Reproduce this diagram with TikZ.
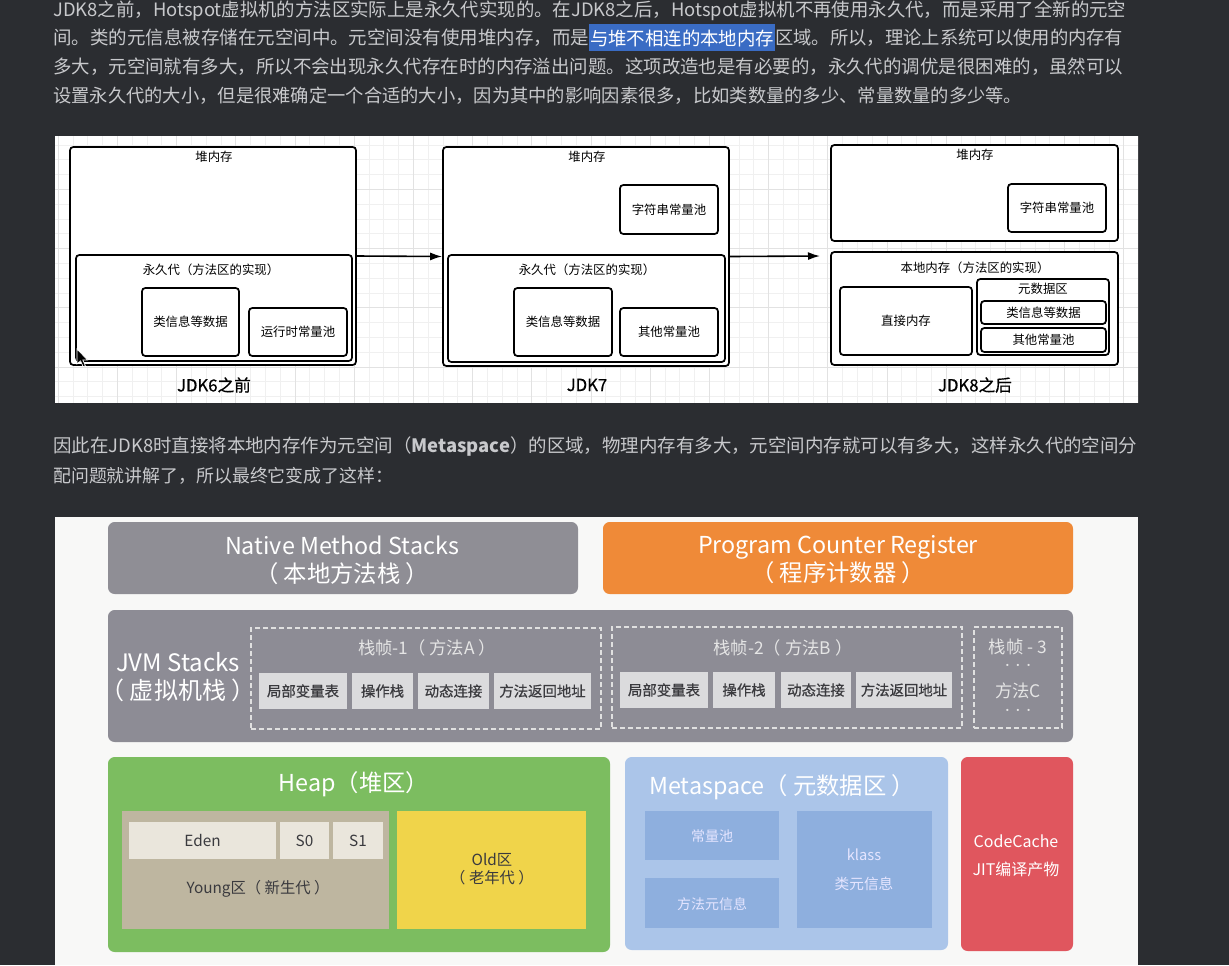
\documentclass[tikz,border=0pt]{standalone}
\usepackage{fontspec}
\setmainfont{Noto Sans CJK SC}
\newfontfamily\semib[FakeBold=0.7]{Noto Sans CJK SC}
\usetikzlibrary{arrows.meta,fit}
\definecolor{pagebg}{RGB}{43,45,49}
\definecolor{ptxt}{RGB}{200,201,204}
\definecolor{hl}{RGB}{58,108,196}
\definecolor{gminorc}{RGB}{240,240,240}
\definecolor{gmajorc}{RGB}{226,226,226}
\definecolor{botbg}{RGB}{248,248,247}
\definecolor{nmsgray}{RGB}{143,142,149}
\definecolor{jvmgray}{RGB}{141,140,149}
\definecolor{subgray}{RGB}{219,219,221}
\definecolor{pcorange}{RGB}{239,138,56}
\definecolor{heapgreen}{RGB}{124,189,96}
\definecolor{youngtan}{RGB}{190,182,160}
\definecolor{edenc}{RGB}{234,230,220}
\definecolor{oldyellow}{RGB}{240,212,74}
\definecolor{metablue}{RGB}{171,197,233}
\definecolor{metainner}{RGB}{142,175,222}
\definecolor{codered}{RGB}{224,86,94}
\definecolor{darktxt}{RGB}{58,58,62}
\tikzset{
  ptext/.style={text=ptxt, inner sep=0pt, font=\fontsize{14}{16}\selectfont},
  pb/.style={draw=black, line width=1.3pt, rounded corners=2.5pt, fill=white, inner sep=0pt},
  lbl/.style={inner sep=0pt, font=\fontsize{9.3}{11}\selectfont},
  jdk/.style={inner sep=0pt, font=\semib\fontsize{12.5}{14}\selectfont},
  arr/.style={line width=1.2pt, -{Latex[length=9pt,width=6pt]}},
  gminor/.style={gminorc, line width=0.5pt},
  gmajor/.style={gmajorc, line width=0.6pt},
  blk/.style={rounded corners=5pt, inner sep=0pt},
  big/.style={inner sep=0pt, text=white, align=center, font=\fontsize{17.5}{21}\selectfont},
  frame/.style={draw=white!88!black, dashed, dash pattern=on 3.5pt off 2.5pt, line width=0.9pt, inner sep=0pt},
  boxf/.style={inner sep=0pt},
  sub/.style={inner sep=0pt, text=darktxt, font=\semib\fontsize{10.8}{12}\selectfont},
  ftitle/.style={inner sep=0pt, text=white!90!black, font=\fontsize{13}{14}\selectfont},
  inner/.style={inner sep=0pt, text=darktxt, font=\fontsize{11.5}{13}\selectfont},
  mtxt/.style={inner sep=0pt, text=white!90!blue, font=\fontsize{10.5}{12}\selectfont},
}
\begin{document}
\begin{tikzpicture}[x=0.75pt,y=-0.75pt]
\useasboundingbox (0,0) rectangle (1229,965);
\fill[pagebg] (0,0) rectangle (1229,965);

% ---------- paragraph 1 ----------
\node[ptext, anchor=west] (l1) at (53,11) {\resizebox{804.75pt}{!}{JDK8之前，Hotspot虚拟机的方法区实际上是永久代实现的。在JDK8之后，Hotspot虚拟机不再使用永久代，而是采用了全新的元空}};
\node[ptext, anchor=west] (l2a) at (53,38) {\resizebox{402pt}{!}{间。类的元信息被存储在元空间中。元空间没有使用堆内存，而是}};
\fill[hl] (589,24) rectangle (775,51);
\node[ptext, text=white] (l2b) at (682,38) {\resizebox{138pt}{!}{与堆不相连的本地内存}};
\node[ptext, anchor=west] (l2c) at (775,38) {\resizebox{261pt}{!}{区域。所以，理论上系统可以使用的内存有}};
\node[ptext, anchor=west] (l3) at (53,67) {\resizebox{802.5pt}{!}{多大，元空间就有多大，所以不会出现永久代存在时的内存溢出问题。这项改造也是有必要的，永久代的调优是很困难的，虽然可以}};
\node[ptext, anchor=west] (l4) at (53,96) {\resizebox{726.75pt}{!}{设置永久代的大小，但是很难确定一个合适的大小，因为其中的影响因素很多，比如类数量的多少、常量数量的多少等。}};

% ---------- diagram 1 ----------
\fill[white] (55,136) rectangle (1138,403);
\begin{scope}
\clip (55,136) rectangle (1138,403);
\foreach \i in {0,...,73} \draw[gminor] ({58.1+\i*14.8},136) -- ({58.1+\i*14.8},403);
\foreach \j in {0,...,17} \draw[gminor] (55,{144.9+\j*14.8}) -- (1138,{144.9+\j*14.8});
\foreach \i in {0,...,18} \draw[gmajor] ({58.1+\i*59.2},136) -- ({58.1+\i*59.2},403);
\foreach \yy in {189.3,248.5,307.7,366.9} \draw[gmajor] (55,\yy) -- (1138,\yy);
\end{scope}

% panel 1
\node[pb, fit={(70,147)(356,365)}] (heap1) {};
\node[lbl] (heap1t) at (214,157) {堆内存};
\node[pb, fit={(76,255)(352,361)}] (perm1) {};
\node[lbl] (perm1t) at (211,270) {永久代（方法区的实现）};
\node[pb, fit={(142,288)(239,356)}] (cls1) {};
\node[lbl] (cls1t) at (cls1.center) {类信息等数据};
\node[pb, fit={(249,308)(347,356)}] (rt1) {};
\node[lbl] (rt1t) at (rt1.center) {运行时常量池};
\node[jdk] (jdk6) at (214,385) {JDK6之前};
% cursor
\filldraw[fill=black, draw=white, line width=0.5pt] (77,349) -- (77,364) -- (80.5,360.8) -- (83.2,366.8) -- (85.4,365.8) -- (82.8,360) -- (87.5,360) -- cycle;

% panel 2
\node[pb, fit={(443,147)(729,366)}] (heap2) {};
\node[lbl] (heap2t) at (587,157) {堆内存};
\node[pb, fit={(620,185)(718,234)}] (str2) {};
\node[lbl] (str2t) at (str2.center) {字符串常量池};
\node[pb, fit={(448,255)(725,362)}] (perm2) {};
\node[lbl] (perm2t) at (587,270) {永久代（方法区的实现）};
\node[pb, fit={(514,288)(612,356)}] (cls2) {};
\node[lbl] (cls2t) at (cls2.center) {类信息等数据};
\node[pb, fit={(620,308)(718,356)}] (oth2) {};
\node[lbl] (oth2t) at (oth2.center) {其他常量池};
\node[jdk] (jdk7) at (587,385) {JDK7};

% panel 3
\node[pb, fit={(831,145)(1118,241)}] (heap3) {};
\node[lbl] (heap3t) at (975,155) {堆内存};
\node[pb, fit={(1008,184)(1106,232)}] (str3) {};
\node[lbl] (str3t) at (str3.center) {字符串常量池};
\node[pb, fit={(831,252)(1118,365)}] (nat3) {};
\node[lbl] (nat3t) at (975,268) {本地内存（方法区的实现）};
\node[pb, fit={(840,287)(972,355)}] (dir3) {};
\node[lbl] (dir3t) at (dir3.center) {直接内存};
\node[pb, fit={(977,279)(1109,355)}] (meta3) {};
\node[lbl] (meta3t) at (1043,289) {元数据区};
\node[pb, fit={(981,301)(1106,324)}] (cls3) {};
\node[lbl] (cls3t) at (cls3.center) {类信息等数据};
\node[pb, fit={(981,328)(1106,352)}] (oth3) {};
\node[lbl] (oth3t) at (oth3.center) {其他常量池};
\node[jdk] (jdk8) at (975,385) {JDK8之后};

\coordinate (a3) at (820,256);
\draw[arr] (heap1.east) -- (heap2.west);
\draw[arr] (heap2.east) -- (a3);

% ---------- paragraph 2 ----------
\node[ptext, anchor=west] (m1) at (53,447) {\resizebox{813pt}{!}{因此在JDK8时直接将本地内存作为元空间（\textbf{Metaspace}）的区域，物理内存有多大，元空间内存就可以有多大，这样永久代的空间分}};
\node[ptext, anchor=west] (m2) at (53,476) {\resizebox{255pt}{!}{配问题就讲解了，所以最终它变成了这样：}};

% ---------- diagram 2 ----------
\fill[botbg] (55,517) rectangle (1138,965);

\node[blk, fill=nmsgray, fit={(108,522)(578,594)}] (nms) {};
\node[big] (nmst) at (342,560) {Native Method Stacks\\（ 本地方法栈 ）};
\node[blk, fill=pcorange, fit={(603,522)(1073,594)}] (pcr) {};
\node[big] (pcrt) at (838,560) {Program Counter Register\\（ 程序计数器 ）};

\node[blk, fill=jvmgray, fit={(108,610)(1073,742)}] (jvm) {};
\node[big, font=\fontsize{18}{21}\selectfont] (jvmt) at (178,677) {JVM Stacks\\（ 虚拟机栈 ）};

\node[frame, fit={(251,628)(601,729)}] (f1) {};
\node[ftitle] (f1t) at (427,648) {栈帧-1（ 方法A ）};
\node[boxf, fill=subgray, fit={(259,673)(347,709)}] (f1a) {};
\node[sub] (f1at) at (f1a.center) {局部变量表};
\node[boxf, fill=subgray, fit={(352,673)(413,709)}] (f1b) {};
\node[sub] (f1bt) at (f1b.center) {操作栈};
\node[boxf, fill=subgray, fit={(418,673)(489,709)}] (f1c) {};
\node[sub] (f1ct) at (f1c.center) {动态连接};
\node[boxf, fill=subgray, fit={(494,673)(591,709)}] (f1d) {};
\node[sub] (f1dt) at (f1d.center) {方法返回地址};

\node[frame, fit={(612,627)(962,728)}] (f2) {};
\node[ftitle] (f2t) at (783,648) {栈帧-2（ 方法B ）};
\node[boxf, fill=subgray, fit={(620,672)(708,708)}] (f2a) {};
\node[sub] (f2at) at (f2a.center) {局部变量表};
\node[boxf, fill=subgray, fit={(713,672)(775,708)}] (f2b) {};
\node[sub] (f2bt) at (f2b.center) {操作栈};
\node[boxf, fill=subgray, fit={(781,672)(851,708)}] (f2c) {};
\node[sub] (f2ct) at (f2c.center) {动态连接};
\node[boxf, fill=subgray, fit={(856,672)(952,708)}] (f2d) {};
\node[sub] (f2dt) at (f2d.center) {方法返回地址};

\node[frame, fit={(974,627)(1062,728)}] (f3) {};
\node[ftitle] (f3t) at (1018,647) {栈帧 - 3};
\node[ftitle] (f3d1) at (1018,667) {\fontsize{8}{9}\selectfont ···};
\node[ftitle] (f3m) at (1018,691) {方法C};
\node[ftitle] (f3d2) at (1018,712) {\fontsize{8}{9}\selectfont ···};

\node[blk, fill=heapgreen, fit={(108,757)(610,952)}] (heap) {};
\node[big] (heapt) at (354,784) {Heap（堆区）};
\node[boxf, fill=youngtan, fit={(122,811)(389,929)}] (young) {};
\node[boxf, fill=edenc, fit={(129,822)(276,859)}] (eden) {};
\node[inner] (edent) at (eden.center) {Eden};
\node[boxf, fill=edenc, fit={(280,822)(329,859)}] (s0) {};
\node[inner] (s0t) at (s0.center) {S0};
\node[boxf, fill=edenc, fit={(333,822)(383,859)}] (s1) {};
\node[inner] (s1t) at (s1.center) {S1};
\node[inner] (youngt) at (258,889) {Young区（ 新生代 ）};
\node[boxf, fill=oldyellow, fit={(397,811)(586,929)}] (old) {};
\node[inner, align=center, font=\fontsize{11.5}{13.5}\selectfont] (oldt) at (492,869) {Old区\\（ 老年代 ）};

\node[blk, fill=metablue, fit={(625,757)(948,950)}] (meta) {};
\node[big, anchor=west] (metat) at (649,787) {Metaspace（ 元数据区 ）};
\node[boxf, fill=metainner, fit={(645,811)(779,860)}] (cp) {};
\node[mtxt] (cpt) at (712,836) {常量池};
\node[boxf, fill=metainner, fit={(645,878)(779,928)}] (mm) {};
\node[mtxt] (mmt) at (712,904) {方法元信息};
\node[boxf, fill=metainner, fit={(797,811)(932,928)}] (kl) {};
\node[mtxt, align=center, font=\fontsize{11}{22}\selectfont] (klt) at (864,870) {klass\\类元信息};

\node[blk, fill=codered, fit={(961,757)(1073,951)}] (cc) {};
\node[big, font=\fontsize{12}{21}\selectfont] (cct) at (1016,856) {CodeCache\\JIT编译产物};
\end{tikzpicture}
\end{document}
